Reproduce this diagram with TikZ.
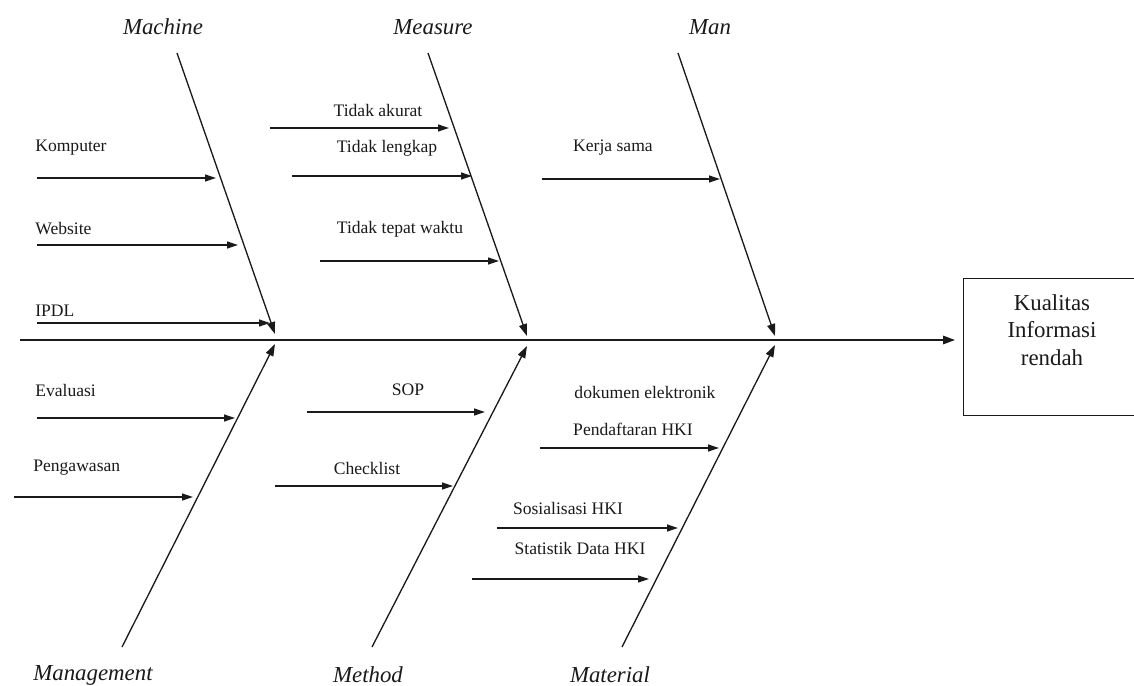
\documentclass[tikz,border=0pt]{standalone}
\usepackage{fontspec}
\setmainfont{Liberation Serif}
\usetikzlibrary{arrows.meta,positioning,calc}
\definecolor{ink}{HTML}{1A1A1A}
\tikzset{
  spinearr/.style={-{Triangle[length=2.4mm,width=1.7mm]},line width=0.9pt,draw=ink},
  bonearr/.style={-{Triangle[length=2.4mm,width=1.6mm]},line width=0.75pt,draw=ink},
  subarr/.style={-{Triangle[length=2.2mm,width=1.4mm]},line width=0.7pt,draw=ink},
  catlabel/.style={font=\itshape\fontsize{13}{15}\selectfont,text=ink,inner sep=0pt},
  causelabel/.style={font=\fontsize{10}{12}\selectfont,text=ink,inner sep=0pt},
  effectbox/.style={draw=ink,line width=0.8pt,inner sep=0pt,
                    minimum width=3.6cm,minimum height=2.74cm},
  effecttext/.style={font=\fontsize{13}{15.5}\selectfont,text=ink,align=center,inner sep=0pt}
}
\begin{document}
\begin{tikzpicture}[x=0.02cm,y=-0.02cm]
    \path[use as bounding box,fill=white] (0,0) rectangle (1134,686);
    % effect and spine
    \node[effectbox,anchor=north west] (effect) at (963,278) {};
    \node[effecttext] (effectlbl) at (1052,330) {Kualitas\\Informasi\\rendah};
    \coordinate (tail) at (20,340);
    \draw[spinearr] (tail) -- ($(effect.west|-tail)+(-8,0)$);
    % category bones
    \coordinate (machtop) at (177,53);   \coordinate (machhead) at (275,334);
    \coordinate (meastop) at (428,53);   \coordinate (meashead) at (527,336);
    \coordinate (mantop) at (678,53);    \coordinate (manhead) at (775,336);
    \coordinate (mgmtbot) at (122,647);  \coordinate (mgmthead) at (275,344);
    \coordinate (methbot) at (372,647);  \coordinate (methhead) at (527,346);
    \coordinate (matbot) at (622,647);   \coordinate (mathead) at (775,345);
    \foreach \a/\b in {machtop/machhead,meastop/meashead,mantop/manhead,
                       mgmtbot/mgmthead,methbot/methhead,matbot/mathead}
      \draw[bonearr] (\a) -- (\b);
    \node[catlabel] (machine) at (163,27) {Machine};
    \node[catlabel] (measure) at (433,27) {Measure};
    \node[catlabel] (man) at (710,27) {Man};
    \node[catlabel] (management) at (93,675) {Management};
    \node[catlabel] (method) at (368,675) {Method};
    \node[catlabel] (material) at (610,675) {Material};
    % machine causes
    \node[causelabel,anchor=west] (komputer) at (35,148) {Komputer};
    \node[causelabel,anchor=west] (website) at (35,229) {Website};
    \node[causelabel,anchor=west] (ipdl) at (35,311) {IPDL};
    \draw[subarr] (37,178) coordinate (k0) -- (216,178) coordinate (k1);
    \draw[subarr] (37,245) coordinate (w0) -- (238,245) coordinate (w1);
    \draw[subarr] (37,323) coordinate (i0) -- (270,323) coordinate (i1);
    % measure causes
    \node[causelabel] (akurat) at (378,110) {Tidak akurat};
    \node[causelabel] (lengkap) at (387,148) {Tidak lengkap};
    \node[causelabel] (waktu) at (400,229) {Tidak tepat waktu};
    \draw[subarr] (270,128) coordinate (a0) -- (449,128) coordinate (a1);
    \draw[subarr] (292,176) coordinate (l0) -- (472,176) coordinate (l1);
    \draw[subarr] (320,261) coordinate (t0) -- (499,261) coordinate (t1);
    % man causes
    \node[causelabel] (kerja) at (613,148) {Kerja sama};
    \draw[subarr] (542,179) coordinate (ks0) -- (720,179) coordinate (ks1);
    % management causes
    \node[causelabel,anchor=west] (evaluasi) at (35,390) {Evaluasi};
    \node[causelabel,anchor=west] (pengawasan) at (33,468) {Pengawasan};
    \draw[subarr] (37,418) coordinate (e0) -- (235,418) coordinate (e1);
    \draw[subarr] (14,497) coordinate (p0) -- (193,497) coordinate (p1);
    % method causes
    \node[causelabel] (sop) at (408,390) {SOP};
    \node[causelabel] (checklist) at (367,468) {Checklist};
    \draw[subarr] (307,412) coordinate (s0) -- (485,412) coordinate (s1);
    \draw[subarr] (275,486) coordinate (c0) -- (453,486) coordinate (c1);
    % material causes
    \node[causelabel] (dokumen) at (645,392) {dokumen elektronik};
    \node[causelabel] (pendaftaran) at (633,429) {Pendaftaran HKI};
    \node[causelabel] (sosialisasi) at (568,508) {Sosialisasi HKI};
    \node[causelabel] (statistik) at (580,548) {Statistik Data HKI};
    \draw[subarr] (540,448) coordinate (pd0) -- (719,448) coordinate (pd1);
    \draw[subarr] (497,528) coordinate (so0) -- (678,528) coordinate (so1);
    \draw[subarr] (472,579) coordinate (st0) -- (649,579) coordinate (st1);
  \end{tikzpicture}
\end{document}
